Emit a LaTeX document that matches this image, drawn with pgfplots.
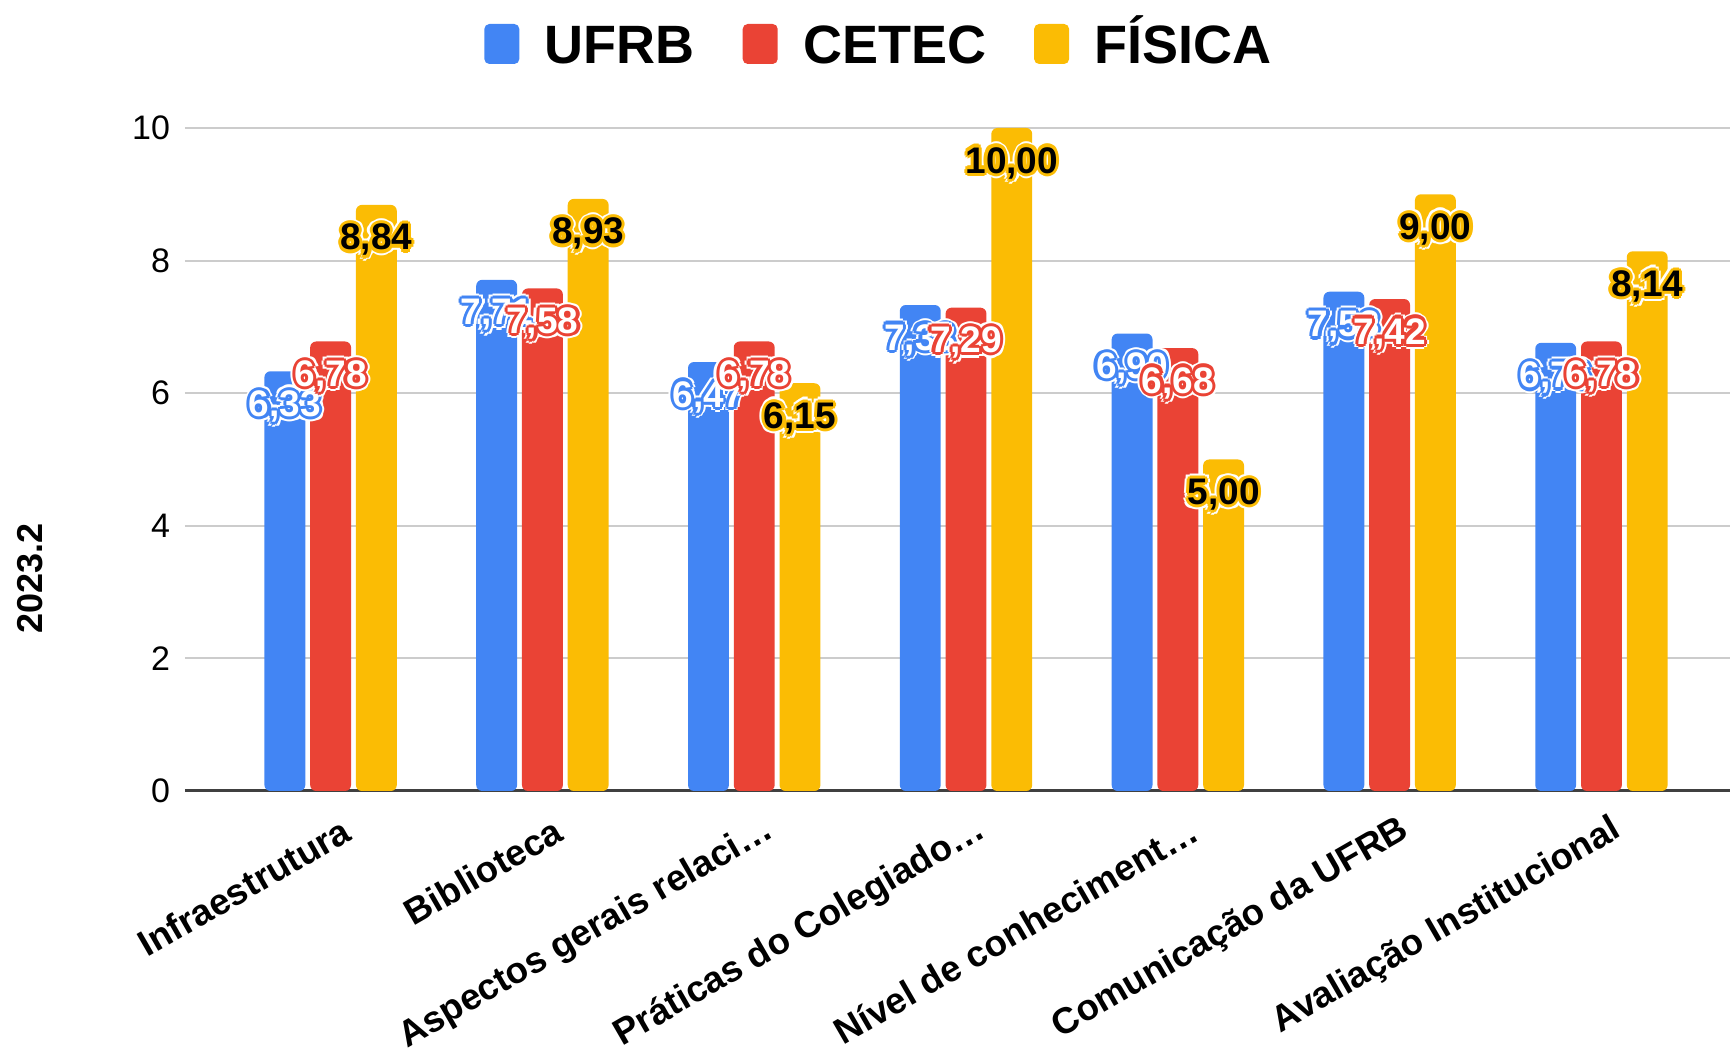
\documentclass[border=0pt]{standalone}
\usepackage{pgfplots}
\pgfplotsset{compat=1.18}
\usepackage{fontspec}
\setmainfont{Liberation Sans}
\definecolor{ublue}{HTML}{4285F4}
\definecolor{cred}{HTML}{EA4335}
\definecolor{fyel}{HTML}{FBBC04}
\definecolor{gridc}{HTML}{CCCCCC}
\newcommand\shifted[4]{\makebox[0pt][l]{\hspace*{#1}\raisebox{#2}{\textcolor{#3}{#4}}}}
\newcommand\ring[4]{%
 \shifted{#1pt}{0pt}{#3}{#4}\shifted{-#1pt}{0pt}{#3}{#4}%
 \shifted{0pt}{#1pt}{#3}{#4}\shifted{0pt}{-#1pt}{#3}{#4}%
 \shifted{#2pt}{#2pt}{#3}{#4}\shifted{-#2pt}{#2pt}{#3}{#4}%
 \shifted{#2pt}{-#2pt}{#3}{#4}\shifted{-#2pt}{-#2pt}{#3}{#4}}
\newcommand\outl[3]{\ring{2.7}{1.9}{white}{#3}\ring{1.6}{1.1}{#1}{#3}\textcolor{#2}{#3}}
\newcommand\val[2]{\outl{#1}{#2}{\pgfmathprintnumber[fixed,fixed zerofill,precision=2,use comma,assume math mode=true]{\pgfplotspointmeta}}}
\begin{document}
\begin{tikzpicture}
\begin{axis}[
  scale only axis, width=772.5pt, height=331.5pt,
  xmin=-0.6875, xmax=6.607, ymin=0, ymax=10,
  enlarge y limits=false,
  ybar, bar width=0.193,
  xtick={0,...,6},
  xticklabels={Infraestrutura, Biblioteca, Aspectos gerais relaci…, Práticas do Colegiado…, Nível de conheciment…, Comunicação da UFRB, Avaliação Institucional},
  xticklabel style={rotate=30, anchor=east, font=\bfseries\fontsize{18.3}{21}\selectfont, xshift=1.5pt, yshift=-20pt},
  ytick={0,2,...,10},
  yticklabel style={font=\fontsize{17}{20}\selectfont, xshift=-4pt},
  /pgf/number format/assume math mode=true,
  major tick length=0pt,
  ymajorgrids, major grid style={draw=gridc, line width=1pt},
  axis line style={draw=none},
  extra y ticks={0}, extra y tick labels={},
  extra y tick style={major grid style={draw=black!75, line width=1.5pt}},
  ylabel={2023.2},
  ylabel style={at={(axis description cs:-0.1003,0.321)}, anchor=center, font=\bfseries\fontsize{18}{20}\selectfont},
  clip=false,
  legend columns=3,
  legend style={at={(axis description cs:0.4485,1.1267)}, anchor=center, draw=none, fill=none,
    font=\bfseries\fontsize{27}{30}\selectfont,
    nodes={inner xsep=0pt, inner ysep=1pt, text height=19.5pt, text depth=0pt},
    /tikz/every odd column/.append style={column sep=12.7pt},
    /tikz/every even column/.append style={column sep=24pt}},
  legend image code/.code={\fill[#1, draw=none, rounded corners=2.5pt] (0pt,-10pt) rectangle (17.5pt,10pt);},
  nodes near coords style={anchor=center, yshift=-17.5pt, font=\bfseries\fontsize{18.5}{21}\selectfont},
]
\addplot[fill=ublue, draw=none, rounded corners=3pt, bar shift=-0.216,
  point meta=y, nodes near coords={\val{ublue}{white}}]
  coordinates {(0,6.33) (1,7.71) (2,6.47) (3,7.33) (4,6.90) (5,7.53) (6,6.76)};
\addplot[fill=cred, draw=none, rounded corners=3pt, bar shift=0,
  point meta=y, nodes near coords={\val{cred}{white}}]
  coordinates {(0,6.78) (1,7.58) (2,6.78) (3,7.29) (4,6.68) (5,7.42) (6,6.78)};
\addplot[fill=fyel, draw=none, rounded corners=3pt, bar shift=0.216,
  point meta=y, nodes near coords={\val{fyel}{black}}]
  coordinates {(0,8.84) (1,8.93) (2,6.15) (3,10.00) (4,5.00) (5,9.00) (6,8.14)};
\legend{UFRB, CETEC, FÍSICA}
\end{axis}
\pgfresetboundingbox
\path[use as bounding box] (-92.5pt,-130.5pt) rectangle (772.5pt,395.5pt);
\end{tikzpicture}
\end{document}
